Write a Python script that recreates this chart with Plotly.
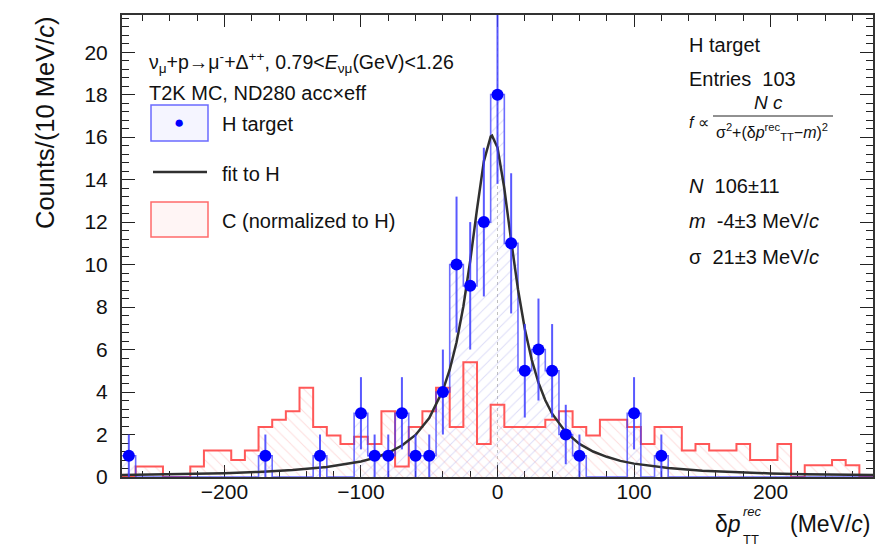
import plotly.graph_objects as go

# ---------------- data ----------------
bin_width = 10
bin_centers = list(range(-270, 271, 10))  # 55 bins of 10 MeV/c

# H target: nonzero bins (centre, counts, stat error)
h_x = [-270, -170, -130, -100, -90, -80, -70, -60, -50, -40, -30, -20, -10, 0, 10, 20, 30, 40, 50, 60, 100, 120]
h_n = [1, 1, 1, 3, 1, 1, 3, 1, 1, 4, 10, 9, 12, 18, 11, 5, 6, 5, 2, 1, 3, 1]
h_err = [1.0, 1.0, 1.0, 1.7, 1.0, 1.0, 1.7, 1.0, 1.0, 2.0, 3.2, 3.0, 3.5, 4.2, 3.3, 2.2, 2.4, 2.2, 1.4, 1.0, 1.7, 1.0]

# C target normalized to H (one value per bin, -270 ... 270)
c_vals = [0, 0.5, 0.5, 0, 0, 0.5, 1.25, 1.25, 0.8, 1.25,
          2.35, 2.7, 3.1, 4.2, 2.35, 1.95, 1.55, 1.9, 1.55, 3.1,
          0.5, 2.35, 3.1, 4.2, 2.35, 5.4, 1.55, 3.4, 2.35, 2.35,
          2.35, 2.7, 3.1, 2.35, 1.95, 2.7, 2.7, 2.35, 1.55, 2.35,
          2.35, 1.25, 1.55, 1.25, 1.25, 1.55, 0.8, 0.8, 1.55, 0,
          0.55, 0.55, 0.8, 0.55, 0]

# fit curve
fit_x = [-275, -250, -225, -200, -175, -150, -125, -100, -90, -80, -70, -60, -50, -40, -35, -30, -25, -20,
         -15, -10, -5, -4, 0, 5, 10, 15, 20, 25, 30, 35, 40, 50, 60, 70, 80, 90, 100, 125, 150, 175,
         200, 225, 250, 275]
fit_y = [0.10, 0.12, 0.14, 0.18, 0.24, 0.33, 0.47, 0.73, 0.90, 1.14, 1.48, 1.98, 2.77, 4.08, 5.05, 6.34, 8.03, 10.17,
         12.61, 14.86, 16.03, 16.07, 15.51, 13.58, 11.13, 8.84, 6.97, 5.53, 4.44, 3.61, 2.98, 2.11, 1.56, 1.20, 0.95, 0.76,
         0.63, 0.42, 0.29, 0.22, 0.17, 0.13, 0.11, 0.09]

x_ticks = [-200, -100, 0, 100, 200]
y_ticks = [0, 2, 4, 6, 8, 10, 12, 14, 16, 18, 20]

# ---------------- helpers ----------------
W, H = 891, 546
L, R, T, B = 122, 873, 15, 477
FONT = "Liberation Sans, Arial, Helvetica, sans-serif"


def px(x):
    return (x - L) / (R - L)


def py(y):
    return (B - y) / (B - T)


h_full = {c: 0 for c in bin_centers}
for xx, nn in zip(h_x, h_n):
    h_full[xx] = nn
h_vals = [h_full[c] for c in bin_centers]

edges = [c - bin_width / 2 for c in bin_centers] + [bin_centers[-1] + bin_width / 2]

fig = go.Figure()

# hatched fills
fig.add_trace(go.Bar(x=bin_centers, y=c_vals, width=bin_width,
                     marker=dict(color="rgba(0,0,0,0)", line_width=0,
                                 pattern=dict(shape="\\", fgcolor="rgba(250,140,140,0.6)",
                                              bgcolor="rgba(0,0,0,0)", size=8, solidity=0.12)),
                     hoverinfo="skip", showlegend=False))
fig.add_trace(go.Bar(x=bin_centers, y=h_vals, width=bin_width,
                     marker=dict(color="rgba(0,0,0,0)", line_width=0,
                                 pattern=dict(shape="/", fgcolor="rgba(140,140,230,0.6)",
                                              bgcolor="rgba(0,0,0,0)", size=8, solidity=0.12)),
                     hoverinfo="skip", showlegend=False))

# outlines
fig.add_trace(go.Scatter(x=edges, y=c_vals + [c_vals[-1]], mode="lines", line_shape="hv",
                         line=dict(color="rgba(255,70,70,0.9)", width=2), showlegend=False))
fig.add_trace(go.Scatter(x=edges, y=h_vals + [h_vals[-1]], mode="lines", line_shape="hv",
                         line=dict(color="rgba(60,60,255,0.75)", width=1.6), showlegend=False))

# fit
fig.add_trace(go.Scatter(x=fit_x, y=fit_y, mode="lines",
                         line=dict(color="#303030", width=2.5), showlegend=False))

# points
fig.add_trace(go.Scatter(x=h_x, y=h_n, mode="markers",
                         marker=dict(color="#0000ff", size=12, symbol="circle"),
                         error_y=dict(type="data", array=h_err, color="rgba(60,60,255,0.85)",
                                      thickness=2, width=0),
                         showlegend=False))

ann = []


def text(x, y, s, size=20, xanchor="left", color="#111", **kw):
    ann.append(dict(x=px(x), y=py(y), xref="paper", yref="paper", text=s, showarrow=False,
                    xanchor=xanchor, yanchor="middle", font=dict(family=FONT, size=size, color=color), **kw))


# header
text(147, 62, "ν<sub>μ</sub>+p→μ<sup>-</sup>+Δ<sup>++</sup>, 0.79&lt;<i>E</i><sub>νμ</sub>(GeV)&lt;1.26", size=19.5)
text(147, 93, "T2K MC, ND280 acc×eff", size=20)

# legend
text(220, 124, "H target", size=20)
text(220, 174, "fit to H", size=20)
text(220, 221, "C (normalized to H)", size=20)
text(179, 123, "●", size=17, xanchor="center", color="#0000ff")

# stats box
text(687, 45, "H target", size=20)
text(687, 79, "Entries  103", size=20)
text(687, 122, "<i>f</i> ∝", size=16)
text(768, 102, "<i>N c</i>", size=19, xanchor="center")
text(772, 132, "σ<sup>2</sup>+(δ<i>p</i><sup>rec</sup><sub>TT</sub>−<i>m</i>)<sup>2</sup>", size=16, xanchor="center")
text(687, 186, "<i>N</i>  106±11", size=20)
text(687, 221, "<i>m</i>  -4±3 MeV/<i>c</i>", size=20)
text(687, 257, "σ  21±3 MeV/<i>c</i>", size=20)

# axis titles
text(45, 123, "Counts/(10 MeV/<i>c</i>)", size=25.5, xanchor="center", textangle=-90)
text(713, 524, "δ<i>p</i>", size=23)
text(741, 512, "<i>rec</i>", size=13)
text(741, 539, "TT", size=13)
text(873, 524, "(MeV/<i>c</i>)", size=23, xanchor="right")

shapes = [
    dict(type="line", xref="x", yref="paper", x0=0, x1=0, y0=0, y1=1, layer="below",
         line=dict(color="rgba(150,150,150,0.6)", width=1, dash="dot")),
    dict(type="rect", xref="paper", yref="paper", x0=px(151), x1=px(208), y0=py(141), y1=py(105),
         line=dict(color="rgba(90,90,255,0.9)", width=1.5), fillcolor="rgba(200,200,255,0.18)"),
    dict(type="line", xref="paper", yref="paper", x0=px(153), x1=px(207), y0=py(172), y1=py(172),
         line=dict(color="#303030", width=2.5)),
    dict(type="rect", xref="paper", yref="paper", x0=px(151), x1=px(208), y0=py(237), y1=py(202),
         line=dict(color="rgba(255,90,90,0.9)", width=1.5), fillcolor="rgba(255,200,200,0.18)"),
    dict(type="line", xref="paper", yref="paper", x0=px(713), x1=px(833), y0=py(116), y1=py(116),
         line=dict(color="#222", width=1)),
]

fig.update_layout(
    width=W, height=H,
    margin=dict(l=L, r=W - R, t=T, b=H - B, pad=0),
    paper_bgcolor="white", plot_bgcolor="white",
    barmode="overlay", bargap=0,
    annotations=ann, shapes=shapes,
    font=dict(family=FONT, size=21, color="#111"),
    xaxis=dict(range=[-275, 275], tickvals=x_ticks, ticks="inside", ticklen=12, tickwidth=1.2,
               tickcolor="#222", showline=True, linecolor="#333", linewidth=2, mirror="allticks",
               showgrid=False, zeroline=False, tickfont=dict(size=21, family=FONT, color="#111"),
               minor=dict(dtick=20, tick0=0, ticks="inside", ticklen=6, tickcolor="#222", showgrid=False),
               ticklabelstandoff=-5, layer="below traces"),
    yaxis=dict(range=[0, 21.75], tickvals=y_ticks, ticks="inside", ticklen=13, tickwidth=1.2,
               tickcolor="#222", showline=True, linecolor="#333", linewidth=2, mirror="allticks",
               showgrid=False, zeroline=False, tickfont=dict(size=21, family=FONT, color="#111"),
               minor=dict(dtick=0.4, tick0=0, ticks="inside", ticklen=7, tickcolor="#222", showgrid=False),
               ticklabelstandoff=8, layer="below traces"),
)

fig.write_html("out.html")
